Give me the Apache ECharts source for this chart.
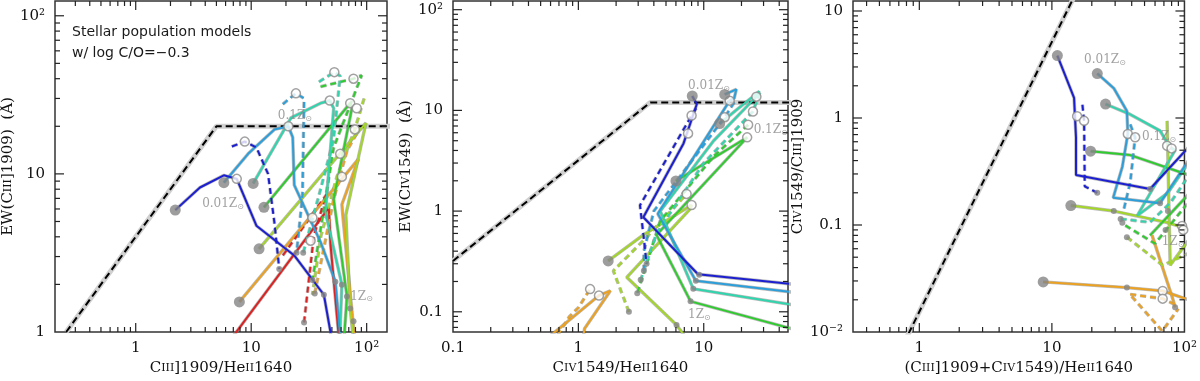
<!DOCTYPE html>
<html>
<head>
<meta charset="utf-8">
<style>html,body{margin:0;background:#fff}#chart{width:1200px;height:381px}</style>
</head>
<body>
<div id="chart"></div>
<script src="https://cdn.jsdelivr.net/npm/echarts@6/dist/echarts.min.js"></script>
<script>
// track colours (metallicity sequence)
var cBlue = '#1c1fd0', cAzure = '#2c9fda', cTeal = '#30d4ad', cGreen = '#2fcb2f',
    cLime = '#a4d52a', cOrange = '#eba122', cRed = '#dc2323';

// ---- panel 1 : EW(CIII]) vs CIII]/HeII
var p1Limit = [[0.25, 1], [5, 20], [200, 20]];
var p1Blue = [[2.2, 5.9], [3.6, 8.2], [5.8, 9.8], [7.5, 9.3], [11.1, 4.7], [23.6, 3.05], [42.6, 1.72], [48.6, 1.0], [50, 0.8]];
var p1BlueDash = [[6.8, 14.9], [8.8, 16], [11.1, 14.7], [14, 10], [15.9, 4.9], [17.5, 2.5]];
var p1Azure = [[5.8, 8.8], [9.4, 13.4], [15.9, 19.1], [21, 20], [22.9, 17], [23.6, 8.5], [39.9, 3.7], [53.6, 2.08], [60, 0.8]];
var p1AzureDash = [[18.8, 27.6], [24.4, 32.3], [28.7, 30], [27.8, 7.2], [24.7, 3.17]];
var p1Teal = [[10.4, 8.7], [22.1, 22.6], [39.9, 28], [47.9, 29.1], [51.8, 26], [44, 5.7], [61, 1.99], [58, 0.8]];
var p1TealDash = [[38.6, 38.2], [52.5, 44], [59, 41.6], [51.5, 16.3], [38.4, 7.2], [28.2, 3.17]];
var p1Green = [[12.9, 6.15], [72, 28], [74.5, 26], [51.8, 6.9], [67.5, 1.68], [63, 0.8]];
var p1GreenDash = [[39.9, 35.6], [76.9, 40], [90.6, 42], [51.8, 14.7], [33.9, 2.13]];
var p1Lime = [[11.7, 3.36], [98.6, 21], [66, 5.5], [72, 1.41], [78, 0.8]];
var p1LimeDash = [[95, 30], [79, 19.1], [55, 9.5], [40, 4], [33.9, 1.72]];
var p1Orange = [[7.9, 1.55], [84.8, 12.4], [61, 6.4], [63, 4.9], [74.5, 1.36], [80, 0.8]];
var p1OrangeDash = [[35.5, 1.75], [52, 7], [67.5, 14], [82, 18]];
var p1Red = [[6.3, 0.85], [47, 6.1], [48.6, 3.6], [58, 0.85]];
var p1RedDash = [[28.7, 1.15], [34.9, 4.06], [44, 7.2]];
var p1RedDash2 = [[18.8, 3.05], [45.5, 7.5]];
var p1Start = [[2.2, 5.9], [5.8, 8.8], [10.4, 8.7], [12.9, 6.15], [11.7, 3.36], [7.9, 1.55]];
var p1Open = [[7.5, 9.3], [8.8, 16], [21, 20], [24.4, 32.3], [47.9, 29.1], [52.5, 44], [72, 28], [76.9, 40], [82, 26], [79, 19.1], [33.9, 5.28], [32.7, 3.78], [59, 13.4], [61, 9.6]];
var p1End = [[17.5, 2.5], [24.7, 3.17], [28.2, 3.17], [42.6, 1.72], [53.6, 2.08], [61, 1.99], [67.5, 1.68], [72, 1.41], [76.9, 1.17], [28.7, 1.15], [33.9, 2.13], [35.5, 1.75]];
var p1Notes = [['0.01', 3.76, 6.42], ['0.1', 17, 23.2], ['1', 72, 1.68]];

// ---- panel 2 : EW(CIV) vs CIV/HeII
var p2Limit = [[0.1, 0.32], [3.75, 12], [100, 12]];
var p2Blue = [[8.1, 13.9], [8.8, 11.5], [6.9, 4.7], [3.3, 0.87], [9.0, 0.236], [50, 0.189]];
var p2BlueDash = [[8.7, 10.5], [8.0, 8.9], [3.1, 1.14], [3.35, 0.5], [3.5, 0.3]];
var p2Azure = [[14.7, 14.4], [18.2, 16.2], [17.5, 13.2], [16.1, 12.5], [4.3, 0.94], [8.65, 0.203], [50, 0.157]];
var p2AzureDash = [[17.5, 12], [14.7, 8.56], [4.0, 1.0], [3.33, 0.4], [3.33, 0.255]];
var p2Teal = [[13.4, 7.4], [27.8, 15.5], [26.3, 13.7], [12, 5], [4.5, 1.0], [8.25, 0.169], [50, 0.118]];
var p2TealDash = [[28, 15], [24.7, 9.75], [10, 3], [4.2, 0.6], [3.14, 0.208]];
var p2Green = [[6.0, 1.99], [22.2, 5.4], [4.2, 0.58], [7.85, 0.127], [50, 0.068]];
var p2GreenDash = [[22.6, 7.2], [12, 3.5], [4.5, 0.8], [2.95, 0.153]];
var p2Lime = [[1.73, 0.32], [3.3, 0.58], [8.0, 1.15], [7.8, 1.05], [2.43, 0.22], [6.07, 0.074], [7, 0.058]];
var p2LimeDash = [[2.53, 0.1], [1.9, 0.255], [3.5, 0.55], [7.3, 1.48]];
var p2Orange = [[0.6, 0.058], [1.46, 0.145], [1.8, 0.162], [1.12, 0.068], [1.1, 0.058]];
var p2OrangeDash = [[0.68, 0.058], [0.85, 0.09], [1.0, 0.11], [1.24, 0.168]];
var p2Start = [[8.1, 13.9], [14.7, 14.4], [13.4, 7.4], [6.0, 1.99], [1.73, 0.32]];
var p2Open = [[8.0, 8.9], [7.5, 5.9], [16.1, 12.5], [14.7, 8.56], [26.3, 13.7], [24.7, 9.75], [22.6, 7.2], [22.2, 5.4], [7.3, 1.48], [8.0, 1.15], [1.24, 0.168], [1.46, 0.145]];
var p2End = [[3.5, 0.3], [3.33, 0.255], [3.14, 0.208], [2.95, 0.153], [2.53, 0.1], [9.2, 0.233], [8.65, 0.203], [8.25, 0.169], [7.85, 0.127], [6.07, 0.074]];
var p2Notes = [['0.01', 7.5, 17.4], ['0.1', 25, 6.36], ['1', 7.5, 0.0927]];

// ---- panel 3 : CIV/CIII] vs (CIII]+CIV)/HeII
var p3Limit = [[0.7, 0.0063], [20, 29.5]];
var p3Blue = [[11, 3.83], [14.7, 1.54], [15.2, 0.66], [15.2, 0.293], [55, 0.217], [110, 0.55]];
var p3BlueDash = [[17, 1.33], [17.5, 0.94], [17.7, 0.23], [22, 0.2]];
var p3Azure = [[22, 2.6], [29.3, 1.9], [36.8, 1.16], [37.4, 0.71], [34, 0.35], [29, 0.18], [65.5, 0.16], [110, 0.42]];
var p3AzureDash = [[39, 0.87], [42.5, 0.66], [39, 0.25], [34.9, 0.14]];
var p3Teal = [[25.4, 1.35], [39, 1.08], [65.5, 0.76], [78, 0.53], [85, 0.5], [44, 0.122], [75, 0.2], [110, 0.4]];
var p3TealDash = [[33, 0.114], [55, 0.106], [78, 0.16], [110, 0.3]];
var p3Green = [[19.6, 0.49], [39, 0.45], [110, 0.29]];
var p3Green2 = [[55, 0.08], [110, 0.2]];
var p3GreenDash = [[35.8, 0.099], [60, 0.067], [110, 0.17]];
var p3Lime = [[13.9, 0.152], [29.3, 0.135], [73, 0.106], [87, 0.099], [110, 0.09]];
var p3Lime2 = [[74, 0.94], [78, 0.042], [110, 0.075]];
var p3LimeDash = [[36.8, 0.077], [68.5, 0.042], [110, 0.055]];
var p3Orange = [[8.6, 0.0294], [36.8, 0.026], [68.5, 0.0242], [110, 0.0198]];
var p3Orange2 = [[57, 0.08], [82, 0.02], [85, 0.017]];
var p3OrangeDash = [[39, 0.0225], [68.5, 0.0205], [85, 0.018]];
var p3OrangeDash2 = [[40, 0.0215], [68, 0.0102], [90, 0.0165]];
var p3Start = [[11, 3.83], [22, 2.6], [25.4, 1.35], [19.6, 0.49], [13.9, 0.152], [8.6, 0.0294]];
var p3Open = [[15.5, 1.04], [17.5, 0.94], [37.4, 0.71], [42.5, 0.66], [74, 0.55], [80, 0.52], [96, 0.098], [98, 0.09], [68.5, 0.0242], [68.5, 0.0205]];
var p3End = [[22, 0.2], [55, 0.217], [29.3, 0.135], [65.5, 0.16], [33, 0.114], [34, 0.105], [36.8, 0.077], [36.8, 0.026], [85, 0.017], [75, 0.135], [72, 0.09]];
var p3Notes = [['0.01', 17.5, 3.5], ['0.1', 47.8, 0.66], ['1', 67.4, 0.069]];

// axis ranges [xmin, xmax, ymin, ymax]
var ranges = [[0.2, 150, 1, 124], [0.1, 47, 0.063, 122], [0.316, 100, 0.01, 12.4]];
var minorSteps = [2, 3, 4, 5, 6, 7, 8, 9];

var serif = 'DejaVu Serif';
var series = [];

function addTrack(g, pts, color, dashed) {
    var t = dashed ? [6, 4] : 'solid';
    series.push({type: 'line', xAxisIndex: g, yAxisIndex: g, data: pts, symbol: 'none', silent: true, z: 2,
        lineStyle: {color: 'rgba(120,120,120,0.5)', width: 3.4, type: t}});
    series.push({type: 'line', xAxisIndex: g, yAxisIndex: g, data: pts, symbol: 'none', silent: true, z: 3,
        lineStyle: {color: color, width: 2, type: t}});
}
function addLimit(g, pts) {
    series.push({type: 'line', xAxisIndex: g, yAxisIndex: g, data: pts, symbol: 'none', silent: true, z: 2,
        lineStyle: {color: '#d0d0d0', width: 5}});
    series.push({type: 'line', xAxisIndex: g, yAxisIndex: g, data: pts, symbol: 'none', silent: true, z: 3,
        lineStyle: {color: '#000', width: 2, type: [7, 4]}});
}
function addMarks(g, start, open, end) {
    series.push({type: 'scatter', xAxisIndex: g, yAxisIndex: g, data: end, symbolSize: 6, silent: true, z: 4,
        itemStyle: {color: '#858585'}});
    series.push({type: 'scatter', xAxisIndex: g, yAxisIndex: g, data: open, symbolSize: 9, silent: true, z: 4,
        itemStyle: {color: '#fff', borderColor: '#8a8a8a', borderWidth: 1.5}});
    series.push({type: 'scatter', xAxisIndex: g, yAxisIndex: g, data: start, symbolSize: 11, silent: true, z: 5,
        itemStyle: {color: '#858585'}});
}
function addNotes(g, notes) {
    series.push({type: 'scatter', xAxisIndex: g, yAxisIndex: g, symbolSize: 0, silent: true, z: 6,
        data: notes.map(function (n) { return {name: n[0], value: [n[1], n[2]]}; }),
        label: {show: true, position: 'right', distance: 0, color: '#8a8a8a',
            fontFamily: serif, fontSize: 12,
            formatter: function (p) { return p.name + 'Z{o|⊙}'; },
            rich: {o: {fontFamily: 'DejaVu Sans', fontSize: 8, color: '#8a8a8a', verticalAlign: 'bottom', padding: [6, 0, 0, 0]}}}});
}
// tick marks drawn inside all four sides of each frame
function addTicks(g) {
    var r = ranges[g], data = [];
    [[r[0], r[1], 0], [r[2], r[3], 2]].forEach(function (a) {
        for (var e = Math.floor(Math.log10(a[0])); e <= Math.ceil(Math.log10(a[1])); e++) {
            [1].concat(minorSteps).forEach(function (m) {
                var v = m * Math.pow(10, e);
                if (v > a[0] * 1.002 && v < a[1] * 0.998) data.push([v, a[2] + (m === 1 ? 1 : 2)]);
            });
        }
    });
    series.push({type: 'custom', xAxisIndex: g, yAxisIndex: g, silent: true, z: 7, clip: false,
        data: data,
        renderItem: function (params, api) {
            var v = api.value(0), k = api.value(1);
            var len = (k === 1 || k === 3) ? 9 : 5, s = {stroke: '#222', lineWidth: 1.2};
            var a, b;
            if (k <= 2) {
                a = api.coord([v, r[2]]); b = api.coord([v, r[3]]);
                return {type: 'group', children: [
                    {type: 'line', shape: {x1: a[0], y1: a[1], x2: a[0], y2: a[1] - len}, style: s},
                    {type: 'line', shape: {x1: b[0], y1: b[1], x2: b[0], y2: b[1] + len}, style: s}]};
            }
            a = api.coord([r[0], v]); b = api.coord([r[1], v]);
            return {type: 'group', children: [
                {type: 'line', shape: {x1: a[0], y1: a[1], x2: a[0] + len, y2: a[1]}, style: s},
                {type: 'line', shape: {x1: b[0], y1: b[1], x2: b[0] - len, y2: b[1]}, style: s}]};
        }});
}

addLimit(0, p1Limit);
addTrack(0, p1Red, cRed); addTrack(0, p1RedDash, cRed, true); addTrack(0, p1RedDash2, cRed, true);
addTrack(0, p1Orange, cOrange); addTrack(0, p1OrangeDash, cOrange, true);
addTrack(0, p1Lime, cLime); addTrack(0, p1LimeDash, cLime, true);
addTrack(0, p1Green, cGreen); addTrack(0, p1GreenDash, cGreen, true);
addTrack(0, p1Teal, cTeal); addTrack(0, p1TealDash, cTeal, true);
addTrack(0, p1Azure, cAzure); addTrack(0, p1AzureDash, cAzure, true);
addTrack(0, p1Blue, cBlue); addTrack(0, p1BlueDash, cBlue, true);
addMarks(0, p1Start, p1Open, p1End); addNotes(0, p1Notes); addTicks(0);

addLimit(1, p2Limit);
addTrack(1, p2Orange, cOrange); addTrack(1, p2OrangeDash, cOrange, true);
addTrack(1, p2Lime, cLime); addTrack(1, p2LimeDash, cLime, true);
addTrack(1, p2Green, cGreen); addTrack(1, p2GreenDash, cGreen, true);
addTrack(1, p2Teal, cTeal); addTrack(1, p2TealDash, cTeal, true);
addTrack(1, p2Azure, cAzure); addTrack(1, p2AzureDash, cAzure, true);
addTrack(1, p2Blue, cBlue); addTrack(1, p2BlueDash, cBlue, true);
addMarks(1, p2Start, p2Open, p2End); addNotes(1, p2Notes); addTicks(1);

addLimit(2, p3Limit);
addTrack(2, p3Orange, cOrange); addTrack(2, p3Orange2, cOrange); addTrack(2, p3OrangeDash, cOrange, true); addTrack(2, p3OrangeDash2, cOrange, true);
addTrack(2, p3Lime, cLime); addTrack(2, p3Lime2, cLime); addTrack(2, p3LimeDash, cLime, true);
addTrack(2, p3Green, cGreen); addTrack(2, p3Green2, cGreen); addTrack(2, p3GreenDash, cGreen, true);
addTrack(2, p3Teal, cTeal); addTrack(2, p3TealDash, cTeal, true);
addTrack(2, p3Azure, cAzure); addTrack(2, p3AzureDash, cAzure, true);
addTrack(2, p3Blue, cBlue); addTrack(2, p3BlueDash, cBlue, true);
addMarks(2, p3Start, p3Open, p3End); addNotes(2, p3Notes); addTicks(2);

function logLabel(v) {
    var e = Math.log10(v), n = Math.round(e);
    if (Math.abs(e - n) > 1e-6) return '';
    return {'-2': '10⁻²', '-1': '0.1', '0': '1', '1': '10', '2': '10²'}[n] || '';
}
var rich = {s: {fontFamily: serif, fontSize: 11, color: '#111'}};
var xNames = ['C{s|III}]1909/He{s|II}1640', 'C{s|IV}1549/He{s|II}1640', '(C{s|III}]1909+C{s|IV}1549)/He{s|II}1640'];
var yNames = ['EW(C{s|III}]1909)  (Å)', 'EW(C{s|IV}1549)  (Å)', 'C{s|IV}1549/C{s|III}]1909'];
var grids = [{left: 51, top: 1, width: 336, height: 337}, {left: 453, top: 1, width: 335, height: 337}, {left: 853, top: 1, width: 336, height: 337}];

var xAxes = [], yAxes = [];
ranges.forEach(function (r, i) {
    xAxes.push({type: 'log', gridIndex: i, min: r[0], max: r[1], name: xNames[i], nameLocation: 'middle', nameGap: 29,
        nameTextStyle: {fontFamily: serif, fontSize: 15, color: '#111', rich: rich},
        axisLine: {show: false}, axisTick: {show: false}, splitLine: {show: false},
        axisLabel: {formatter: logLabel, margin: 9, fontFamily: serif, fontSize: 15, color: '#111'}});
    yAxes.push({type: 'log', gridIndex: i, min: r[2], max: r[3], name: yNames[i], nameLocation: 'middle', nameGap: 34,
        nameTextStyle: {fontFamily: serif, fontSize: 15, color: '#111', rich: rich},
        axisLine: {show: false}, axisTick: {show: false}, splitLine: {show: false},
        axisLabel: {formatter: logLabel, margin: 10, fontFamily: serif, fontSize: 15, color: '#111'}});
});

var chart = echarts.init(document.getElementById('chart'));
chart.setOption({
    animation: false,
    backgroundColor: '#fff',
    title: {text: 'Stellar population models\nw/ log C/O=−0.3', left: 67, top: 17,
        textStyle: {fontFamily: 'DejaVu Sans', fontSize: 14, lineHeight: 21, fontWeight: 'normal', color: '#1a1a1a'}},
    grid: grids.map(function (g) {
        return Object.assign({show: true, borderColor: '#333', borderWidth: 1.5, backgroundColor: 'transparent'}, g);
    }),
    xAxis: xAxes,
    yAxis: yAxes,
    series: series
});
</script>
</body>
</html>
